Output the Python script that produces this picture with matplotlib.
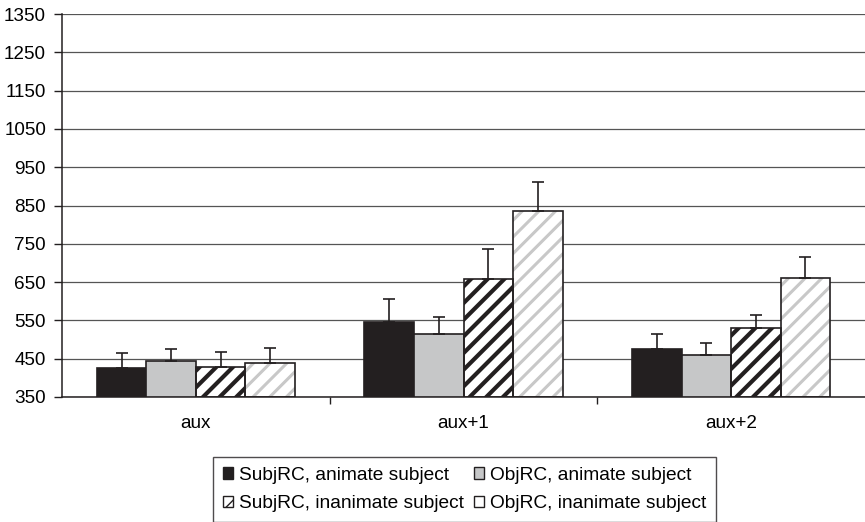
import matplotlib
matplotlib.use("Agg")
import matplotlib.pyplot as plt
import numpy as np
from matplotlib.patches import Patch

plt.rcParams["font.family"] = ["Liberation Sans", "DejaVu Sans"]

positions = ["aux", "aux+1", "aux+2"]
conditions = [
    "SubjRC, animate subject",
    "ObjRC, animate subject",
    "SubjRC, inanimate subject",
    "ObjRC, inanimate subject",
]
# mean reading times per condition, one list per region
subj_anim = [426, 545, 475]
obj_anim = [445, 514, 460]
subj_inanim = [429, 659, 529]
obj_inanim = [440, 836, 660]
# upper error bar ends
subj_anim_err = [464, 606, 514]
obj_anim_err = [475, 560, 492]
subj_inanim_err = [468, 736, 564]
obj_inanim_err = [479, 912, 715]

means = [subj_anim, obj_anim, subj_inanim, obj_inanim]
tops = [subj_anim_err, obj_anim_err, subj_inanim_err, obj_inanim_err]

# (face, hatch, hatch colour)
styles = [
    ("#231f20", None, None),
    ("#c6c7c8", None, None),
    ("white", "//", "#231f20"),
    ("white", "//", "#c8c8c8"),
]

FS = 13.6

fig = plt.figure(figsize=(8.65, 5.22), dpi=100)
ax = fig.add_axes([0.0717, 0.2395, 0.9283, 0.7335])

x = np.arange(len(positions))
width = 0.185
offsets = (np.arange(4) - 1.5) * width

for i in range(4):
    face, hatch, hcol = styles[i]
    xs = x + offsets[i]
    vals = np.array(means[i])
    if hatch:
        bars = ax.bar(xs, vals - 350, width, bottom=350, color=face,
                      edgecolor=hcol, hatch=hatch, linewidth=0, zorder=2)
        for b in bars:
            try:
                b.set_hatch_linewidth(3.0 if hcol == "#231f20" else 2.2)
            except AttributeError:
                pass
    ax.bar(xs, vals - 350, width, bottom=350,
           color=face if not hatch else "none",
           edgecolor="#231f20", linewidth=1.2, zorder=3)
    err = np.array(tops[i]) - vals
    ax.errorbar(xs, vals, yerr=[np.zeros_like(err), err], fmt="none",
                ecolor="#231f20", elinewidth=1.2, capsize=4.3,
                capthick=1.2, zorder=4)

ax.set_xlim(-0.5, 2.5)
ax.set_ylim(350, 1350)
ax.set_yticks(np.arange(350, 1351, 100))
ax.yaxis.grid(True, color="#555555", linewidth=0.9)
ax.set_axisbelow(True)

ax.set_xticks(x)
ax.set_xticklabels(positions)
ax.set_xticks([0.5, 1.5], minor=True)
ax.tick_params(axis="x", which="major", length=0, pad=13, labelsize=FS)
ax.tick_params(axis="x", which="minor", length=5, width=1, color="#231f20")
ax.tick_params(axis="y", length=6, width=1, color="#231f20", labelsize=FS,
               pad=5.5)

for side in ["top", "right"]:
    ax.spines[side].set_visible(False)
for side in ["left", "bottom"]:
    ax.spines[side].set_color("#231f20")
    ax.spines[side].set_linewidth(1.1)

handles = []
for i in range(4):
    face, hatch, hcol = styles[i]
    if hatch:
        h = Patch(facecolor=face, edgecolor="#231f20",
                  hatch="//" if hcol == "#231f20" else None,
                  linewidth=1, label=conditions[i])
    else:
        h = Patch(facecolor=face, edgecolor="#231f20", linewidth=1, label=conditions[i])
    handles.append(h)

order = [0, 2, 1, 3]
leg = fig.legend([handles[k] for k in order], [conditions[k] for k in order],
                 ncol=2, loc="upper center", bbox_to_anchor=(0.537, 0.1245),
                 frameon=True, fancybox=False, edgecolor="#231f20",
                 fontsize=13.8, handlelength=0.55, handleheight=0.55,
                 handletextpad=0.3, columnspacing=0.5, labelspacing=0.6,
                 borderpad=0.5, borderaxespad=0)
leg.get_frame().set_linewidth(1.0)

fig.savefig("out.png", dpi=100)
